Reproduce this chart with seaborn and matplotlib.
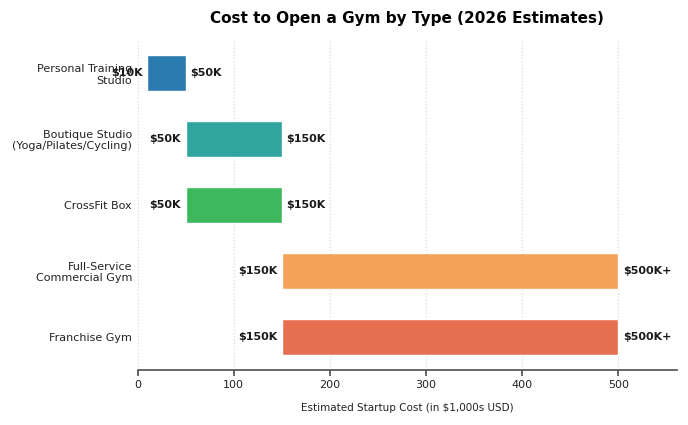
import numpy as np
import pandas as pd
import matplotlib
matplotlib.use('Agg')
import matplotlib.pyplot as plt
import seaborn as sns

gym_types = ['Personal Training\nStudio', 'Boutique Studio\n(Yoga/Pilates/Cycling)',
             'CrossFit Box', 'Full-Service\nCommercial Gym', 'Franchise Gym']
low_cost = [10, 50, 50, 150, 150]
high_cost = [50, 150, 150, 500, 500]
low_labels = ['$10K', '$50K', '$50K', '$150K', '$150K']
high_labels = ['$50K', '$150K', '$150K', '$500K+', '$500K+']
colors = ['#2b7bb0', '#2fa59d', '#3db85c', '#f4a259', '#e76f51']

sns.set_theme(style='white')
plt.rcParams['font.family'] = ['DejaVu Sans']

df = pd.DataFrame({'type': gym_types, 'low': low_cost, 'high': high_cost})

fig = plt.figure(figsize=(6.88, 4.25), dpi=100)
ax = fig.add_axes([0.2, 0.13, 0.784, 0.776])

sns.barplot(data=df, x='high', y='type', hue='type', palette=colors,
            saturation=1, legend=False, width=0.55, ax=ax, zorder=2)

# turn the bars into floating ranges
for patch, lo, hi in zip(ax.patches, low_cost, high_cost):
    patch.set_x(lo)
    patch.set_width(hi - lo)

for i, (lo, hi) in enumerate(zip(low_cost, high_cost)):
    ax.text(lo - 5, i, low_labels[i], ha='right', va='center',
            fontsize=8, fontweight='bold', color='#1a1a1a')
    ax.text(hi + 5, i, high_labels[i], ha='left', va='center',
            fontsize=8, fontweight='bold', color='#1a1a1a')

ax.set_xlim(0, 561)
ax.set_ylim(4.5, -0.5)
ax.set_xticks([0, 100, 200, 300, 400, 500])
ax.xaxis.grid(True, linestyle=':', color='#d9d9d9', linewidth=0.9, zorder=0)
ax.set_axisbelow(True)
sns.despine(ax=ax, left=True)
ax.spines['bottom'].set_color('#555555')
ax.tick_params(axis='x', bottom=True, length=4, color='#555555', labelsize=8, labelcolor='#222222')
ax.tick_params(axis='y', left=False, labelsize=8, labelcolor='#222222', pad=-2)
ax.set_ylabel('')
ax.set_xlabel('Estimated Startup Cost (in $1,000s USD)', fontsize=7.5, color='#222222', labelpad=9)
ax.set_title('Cost to Open a Gym by Type (2026 Estimates)', fontsize=11,
             fontweight='bold', color='black', pad=12)

fig.savefig('out.png', dpi=100)
